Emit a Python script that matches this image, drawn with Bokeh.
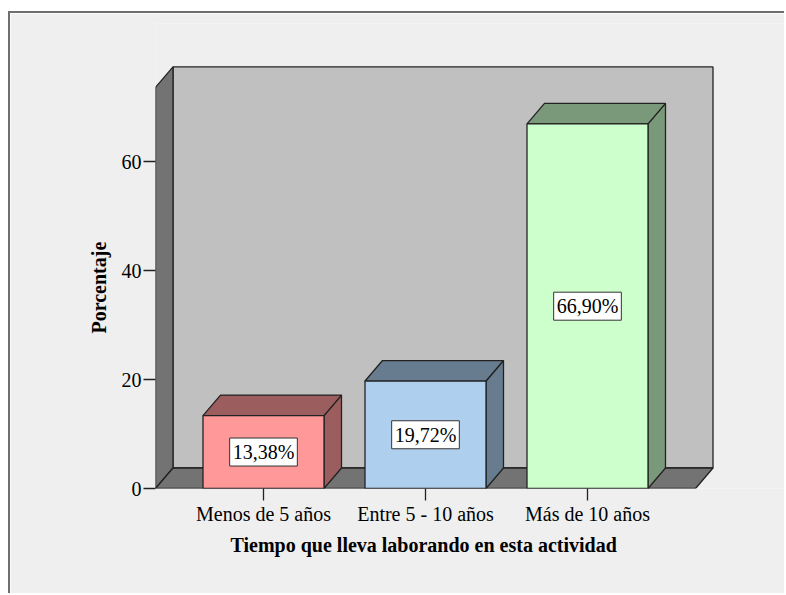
from bokeh.plotting import figure
from bokeh.models import Range1d, FixedTicker, Label, Title
from bokeh.embed import file_html
from bokeh.resources import INLINE

# ---- data ----
categories = ["Menos de 5 años", "Entre 5 - 10 años", "Más de 10 años"]
percentages = [13.38, 19.72, 66.90]
y_ticks = [0, 20, 40, 60]
x_title = "Tiempo que lleva laborando en esta actividad"
y_title = "Porcentaje"

# ---- styles ----
front_colors = ["#ff9999", "#aecfee", "#ccffcc"]
shade_colors = ["#9b5d5d", "#687c8f", "#7a997a"]
PANEL = "#efefef"
WALL = "#c0c0c0"
WALL_DARK = "#737373"
EDGE = "#222222"
FONT = "Liberation Serif"

PX_X = 162.0   # pixels per category unit
PX_Y = 5.45    # pixels per percent
W, H = 776, 582
ML, MB, MT = 145, 107, 10
frame_w = W - ML
frame_h = H - MB - MT

n = len(categories)
pos = list(range(1, n + 1))
x0 = 1 - 2 / 3
x_end = x0 + frame_w / PX_X
y_end = frame_h / PX_Y

DX = 17.5 / PX_X
DY = 20.5 / PX_Y
BAR_W = 121 / PX_X
floor_l = 1 - 2 / 3
floor_r = n + 2 / 3
wall_h = max(percentages) * 1.1

p = figure(width=W, height=H, x_range=Range1d(x0, x_end), y_range=Range1d(0, y_end),
           output_backend="svg", toolbar_location=None,
           min_border_left=ML, min_border_right=0, min_border_top=MT, min_border_bottom=MB,
           background_fill_color=PANEL, border_fill_color=PANEL, outline_line_color=None)
p.styles = {"border-top": "2px solid #6e6e6e", "border-left": "2px solid #6e6e6e",
            "margin-top": "11px", "margin-left": "8px"}
p.xgrid.visible = False
p.ygrid.visible = False

# back wall
p.quad(left=[floor_l + DX], right=[floor_r + DX], bottom=[DY], top=[wall_h + DY],
       fill_color=WALL, line_color=EDGE, line_width=1.3)
# left wall and floor
p.patches(xs=[[floor_l, floor_l, floor_l + DX, floor_l + DX],
              [floor_l, floor_l + DX, floor_r + DX, floor_r]],
          ys=[[0, wall_h, wall_h + DY, DY],
              [0, DY, DY, 0]],
          fill_color=WALL_DARK, line_color=EDGE, line_width=1.3)

# bars
for c, v, fc, sc in zip(pos, percentages, front_colors, shade_colors):
    l, r = c - BAR_W / 2, c + BAR_W / 2
    p.patches(xs=[[r, r, r + DX, r + DX], [l, l + DX, r + DX, r]],
              ys=[[0, v, v + DY, DY], [v, v + DY, v + DY, v]],
              fill_color=sc, line_color=EDGE, line_width=1.3)
    p.quad(left=[l], right=[r], bottom=[0], top=[v],
           fill_color=fc, line_color=EDGE, line_width=1.3)
    p.add_layout(Label(x=c, y=v / 2, text=f"{v:.2f}".replace(".", ",") + "%",
                       text_align="center", text_baseline="middle",
                       text_font=FONT, text_font_size="20px", text_color="black",
                       background_fill_color="white", border_line_color="#333333",
                       border_line_width=1, padding=3))

# axes
for ax in (p.xaxis[0], p.yaxis[0]):
    ax.axis_line_color = None
    ax.major_tick_line_color = EDGE
    ax.major_tick_line_width = 1.3
    ax.major_tick_in = 0
    ax.major_tick_out = 12
    ax.minor_tick_line_color = None
    ax.major_label_text_font = FONT
    ax.major_label_text_font_size = "20px"
    ax.major_label_text_color = "black"

p.yaxis.ticker = FixedTicker(ticks=y_ticks)
p.yaxis.major_label_standoff = 2

p.xaxis.ticker = FixedTicker(ticks=pos)
p.xaxis.major_label_overrides = {c: name for c, name in zip(pos, categories)}
p.xaxis.major_label_standoff = 2

# axis titles (positioned like the original, centred on the floor / wall)
p.add_layout(Title(text=x_title, align="left", offset=75, standoff=8,
                   text_font=FONT, text_font_size="20px", text_font_style="bold",
                   text_color="black"), "below")
p.add_layout(Title(text=y_title, align="left", offset=155, standoff=18,
                   text_font=FONT, text_font_size="20px", text_font_style="bold",
                   text_color="black"), "left")

open("out.html", "w").write(file_html(p, INLINE))
